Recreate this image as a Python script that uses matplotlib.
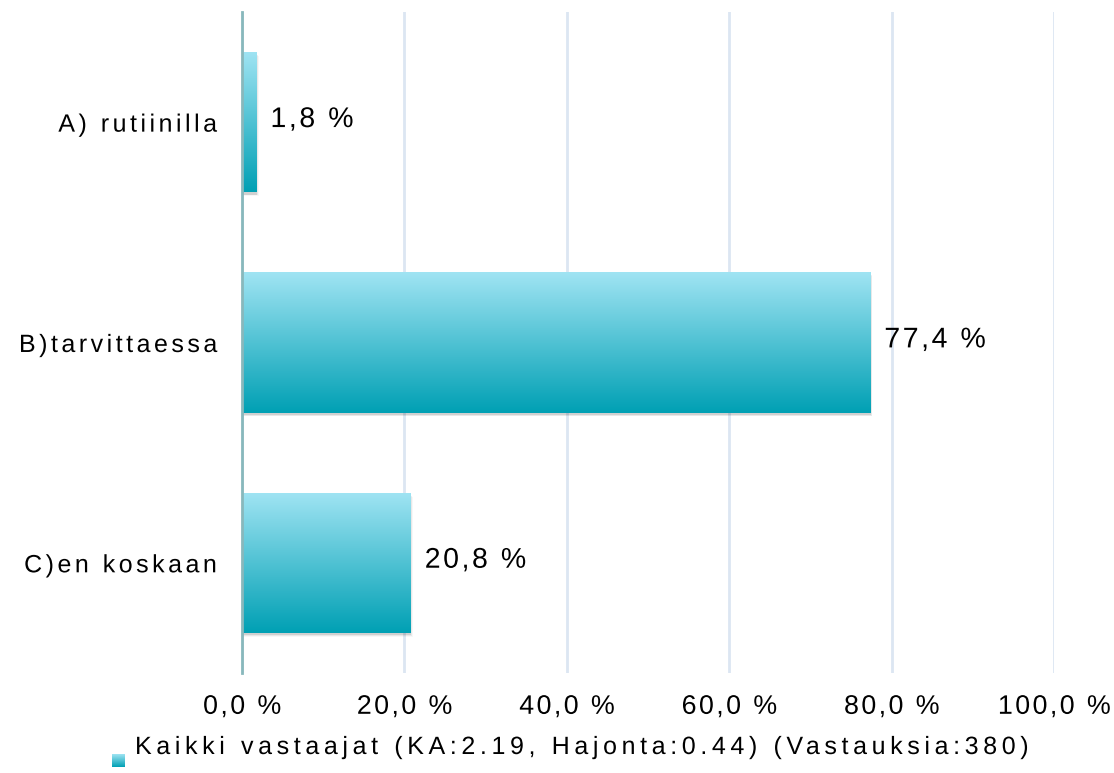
import numpy as np
import matplotlib
matplotlib.use("Agg")
import matplotlib.pyplot as plt
from matplotlib.colors import LinearSegmentedColormap
from matplotlib.patheffects import AbstractPathEffect
from matplotlib.path import Path
from matplotlib.textpath import text_to_path

categories = ["A) rutiinilla", "B)tarvittaessa", "C)en koskaan"]
values = [1.8, 77.4, 20.8]
value_labels = ["1,8 %", "77,4 %", "20,8 %"]
xticks = [0, 20, 40, 60, 80, 100]
xtick_labels = ["0,0 %", "20,0 %", "40,0 %", "60,0 %", "80,0 %", "100,0 %"]
legend_label = "Kaikki vastaajat (KA:2.19, Hajonta:0.44) (Vastauksia:380)"

plt.rcParams['font.family'] = ['Liberation Sans', 'DejaVu Sans']
top_col = "#a0e4f3"
bot_col = "#00a0b4"
cmap = LinearSegmentedColormap.from_list("grad", [bot_col, top_col])


class Tracking(AbstractPathEffect):
    """letter spacing for a text (track in em)"""
    def __init__(self, text, track=0.1):
        super().__init__()
        self.text = text
        self.track = track

    def draw_path(self, renderer, gc, tpath, affine, rgbFace=None):
        s = self.text.get_text()
        codes = tpath.codes
        if codes is None or len(s) < 2:
            renderer.draw_path(gc, tpath, affine, rgbFace)
            return
        font = text_to_path._get_font(self.text.get_fontproperties())
        info, _, _ = text_to_path.get_glyphs_with_font(font, s)
        xs = np.array([g[1] for g in info])
        t = self.track * text_to_path.FONT_SCALE
        verts = tpath.vertices.copy()
        starts = np.flatnonzero(codes == Path.MOVETO)
        ends = np.append(starts[1:], len(codes))
        for a, b in zip(starts, ends):
            m = codes[a:b] != Path.CLOSEPOLY
            cx = verts[a:b][m, 0].mean()
            idx = max(np.searchsorted(xs, cx, "right") - 1, 0)
            verts[a:b, 0] += t * idx
        extra = t * (len(xs) - 1)
        ha = self.text.get_horizontalalignment()
        verts[:, 0] += {"left": 0, "center": -extra / 2, "right": -extra}.get(ha, 0)
        renderer.draw_path(gc, Path(verts, codes), affine, rgbFace)


def track(txt, amount):
    txt.set_path_effects([Tracking(txt, amount)])


fig = plt.figure(figsize=(11.14, 7.73), dpi=100)
ax = fig.add_axes([0.2172, 0.1294, 0.9461 - 0.2172, 0.9845 - 0.1294])

y = np.arange(len(categories))
h = 0.636
grad = np.linspace(0, 1, 256).reshape(-1, 1)
for yi, v in zip(y, values):
    # soft shadow
    for k, a in [(0.2, 0.10), (0.5, 0.06), (0.8, 0.03)]:
        ax.barh(yi + 0.008 + 0.012 * k, v + 0.3 * k, height=h, color="#000000",
                alpha=a, zorder=2, linewidth=0)
    bar = ax.barh(yi, v, height=h, color="none", zorder=3, linewidth=0)[0]
    im = ax.imshow(grad, cmap=cmap, aspect="auto", origin="lower",
                   extent=[0, v, yi + h / 2, yi - h / 2], zorder=3)
    im.set_clip_path(bar)

for yi, v, lab in zip(y, values, value_labels):
    t = ax.annotate(lab, (v, yi), xytext=(10, 1.5), textcoords="offset points",
                    va="center", ha="left", fontsize=20.5)
    track(t, 0.09)

ax.set_xlim(0, 100)
ax.set_ylim(len(categories) - 0.5, -0.5)
ax.set_xticks(xticks)
ax.set_xticklabels(xtick_labels, fontsize=19.3)
ax.set_yticks(y)
ax.set_yticklabels(categories, fontsize=18)
ax.tick_params(axis="both", length=0)
ax.tick_params(axis="x", pad=15)
ax.tick_params(axis="y", pad=18)
for t in ax.get_xticklabels():
    track(t, 0.09)
for t in ax.get_yticklabels():
    track(t, 0.14)
ax.grid(axis="x", color="#dce6f2", linewidth=2, zorder=0)
ax.set_axisbelow(True)
for s in ["top", "right", "bottom"]:
    ax.spines[s].set_visible(False)
ax.spines["left"].set_color("#88b8bc")
ax.spines["left"].set_linewidth(2)
ax.spines["left"].set_zorder(4)

# legend: gradient square + label
lax = fig.add_axes([112 / 1114, 1 - 767 / 773, 13 / 1114, 13 / 773])
lax.imshow(grad, cmap=cmap, aspect="auto", origin="lower", extent=[0, 1, 0, 1])
lax.set_axis_off()
lt = fig.text(135 / 1114, 1 - 754 / 773, legend_label, ha="left", va="baseline",
              fontsize=18)
track(lt, 0.185)

fig.savefig("out.png", dpi=100)
